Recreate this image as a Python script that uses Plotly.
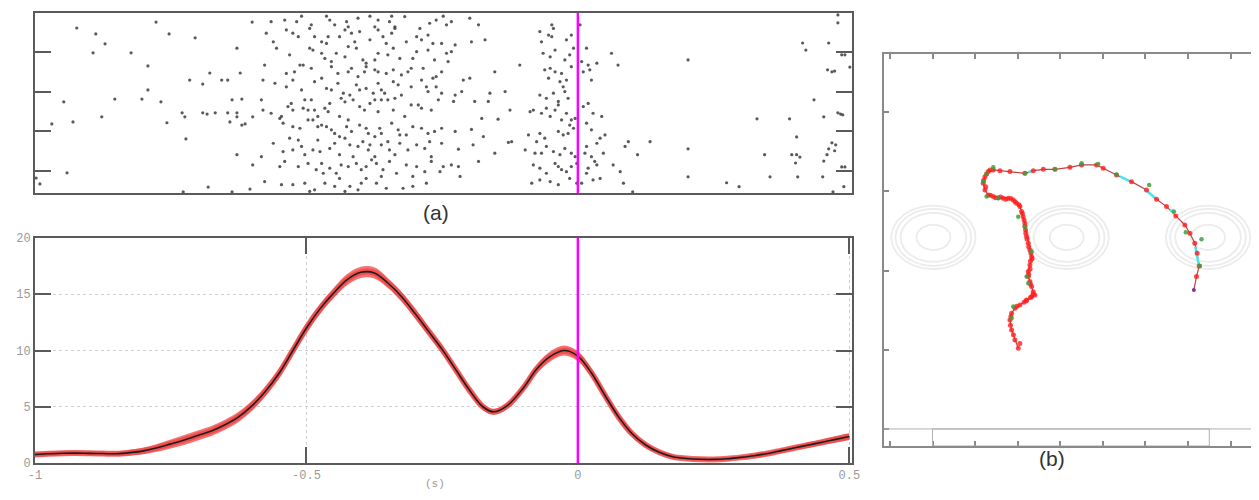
import numpy as np
import plotly.graph_objects as go

W, H = 1259, 500
OFF = 8  # page body margin of the browser, compensated in the layout

# ---------------- (a) raster : (spike time [ms], trial) ----------------
spikes_early = [(-923,3.8),(-888,5.3),(-871,7.8),(-893,10.1),(-823,10.1),(-777,2.3),(-753,5.3),(-705,6.3),
    (-792,13.4),(-792,19.5),(-853,21.8),(-803,21.8),(-768,22.5),(-947,22.5),(-930,27.6),(-969,28.1),(-877,26.3),
    (-941,40.5),(-991,43.3),(-998,41.8),(-757,27.8),(-729,25.3),(-722,31.9),(-715,17.0),(-691,18.0),(-678,15.2),
    (-656,17.0),(-645,17.0),(-622,15.2),(-628,8.9),(-600,2.3),(-724,26.3),(-691,25.3),(-683,25.6),(-668,25.3),
    (-645,25.3),(-637,22.0),(-619,21.8),(-628,25.3),(-628,26.3),(-641,27.6),(-619,28.4),(-613,28.1),(-599,26.3),
    (-628,35.9),(-599,38.5),(-681,44.1),(-727,45.3),(-637,45.3),(-604,44.6)]

spikes_burst = [(-565,2.2),(-540,1.8),(-518,2.2),(-509,0.8),(-491,3.0),(-463,0.8),(-457,1.8),(-448,3.0),(-426,2.2),
    (-423,3.5),(-405,1.3),(-383,0.8),(-374,3.5),(-368,1.8),(-347,2.2),(-343,0.8),(-337,3.5),(-319,0.9),(-291,3.9),
    (-273,2.6),(-261,1.8),(-248,0.8),(-242,3.0),
    (-574,5.1),(-561,7.3),(-537,4.3),(-525,5.1),(-515,6.0),(-494,3.9),(-485,6.0),(-472,7.3),(-460,6.0),(-463,7.7),
    (-439,6.0),(-429,4.3),(-417,5.1),(-411,7.3),(-402,4.7),(-383,6.8),(-368,4.3),(-359,6.0),(-353,7.7),(-343,5.1),
    (-337,3.9),(-316,7.3),(-297,6.0),(-288,6.8),(-276,5.6),(-267,7.7),(-251,7.7),
    (-555,8.9),(-531,10.6),(-494,8.9),(-488,9.4),(-472,10.2),(-466,11.5),(-454,12.3),(-445,10.2),(-429,11.1),
    (-423,8.5),(-408,8.9),(-396,11.9),(-390,12.7),(-374,11.9),(-368,10.2),(-350,10.6),(-340,8.9),(-328,11.5),
    (-304,11.5),(-297,9.8),(-276,9.4),(-264,11.9),(-242,10.2),(-239,12.3),
    (-577,13.2),(-537,15.3),(-522,14.9),(-512,13.2),(-506,13.2),(-491,14.0),(-472,16.5),(-454,13.6),(-442,15.3),
    (-423,14.9),(-417,14.0),(-405,16.1),(-393,14.9),(-390,13.6),(-374,14.4),(-368,14.9),(-353,15.3),(-340,14.4),
    (-325,15.7),(-313,14.9),(-307,14.0),(-285,14.0),(-288,17.0),(-261,16.1),(-251,14.9),(-580,17.0),(-558,17.8),
    (-525,17.0),
    (-537,18.7),(-509,19.5),(-503,22.0),(-491,22.0),(-485,17.4),(-463,19.1),(-454,19.5),(-442,17.8),(-436,21.6),
    (-432,20.3),(-420,20.8),(-408,18.2),(-402,19.5),(-390,19.1),(-377,20.3),(-368,17.8),(-362,19.5),(-356,20.3),
    (-340,17.4),(-331,18.2),(-325,20.8),(-307,18.7),(-294,23.3),(-279,18.7),(-276,19.9),(-267,16.5),(-261,18.7),
    (-251,20.3),
    (-583,22.0),(-580,24.6),(-565,25.4),(-546,26.2),(-534,23.7),(-528,22.9),(-525,24.6),(-506,24.1),(-497,24.6),
    (-485,24.6),(-479,26.2),(-466,24.1),(-460,25.0),(-457,22.9),(-439,26.2),(-429,22.5),(-423,27.1),(-414,22.0),
    (-402,23.7),(-393,24.6),(-383,22.9),(-374,22.0),(-368,25.0),(-362,22.0),(-350,22.0),(-340,24.6),(-337,21.6),
    (-319,26.2),(-307,23.3),(-288,24.1),(-270,24.6),(-257,22.0),
    (-549,26.7),(-543,27.9),(-525,28.8),(-512,29.2),(-497,27.1),(-488,27.1),(-479,28.8),(-472,28.4),(-463,28.8),
    (-454,29.6),(-448,30.5),(-439,31.3),(-426,28.8),(-417,30.0),(-402,28.4),(-390,29.2),(-386,30.5),(-374,31.3),
    (-365,29.2),(-362,30.5),(-343,27.9),(-331,29.6),(-328,30.9),(-316,30.9),(-304,28.8),(-288,29.2),(-276,30.5),
    (-264,30.0),(-251,29.2),
    (-583,36.4),(-561,33.0),(-543,35.1),(-531,31.7),(-525,34.7),(-515,32.2),(-509,33.8),(-503,35.9),(-488,34.7),
    (-479,32.2),(-475,35.1),(-457,34.3),(-448,33.0),(-439,35.9),(-429,31.7),(-420,33.4),(-414,36.4),(-405,33.8),
    (-396,32.6),(-386,34.7),(-383,33.4),(-374,36.4),(-362,33.4),(-350,32.6),(-347,34.7),(-337,35.9),(-328,33.0),
    (-313,34.7),(-297,33.4),(-282,34.3),(-273,32.6),(-270,36.4),(-251,33.0),
    (-577,42.7),(-549,38.9),(-540,37.6),(-515,38.9),(-497,38.1),(-482,39.7),(-472,38.1),(-469,40.6),(-457,39.3),
    (-445,40.6),(-436,38.5),(-423,38.9),(-408,38.1),(-399,39.7),(-390,38.9),(-380,37.2),(-371,38.1),(-359,39.7),
    (-347,37.6),(-334,40.6),(-316,38.5),(-304,41.4),(-297,38.9),(-282,40.2),(-270,37.6),(-254,40.2),(-248,38.9),
    (-546,43.5),(-525,43.5),(-503,43.1),(-494,45.2),(-485,44.8),(-466,43.1),(-448,43.9),(-439,41.9),(-429,45.2),
    (-420,43.9),(-405,44.8),(-399,43.1),(-390,41.9),(-371,43.1),(-362,41.4),(-353,44.4),(-322,44.4),(-304,43.9),
    (-279,43.1)]

spikes_event = [(-233,2.2),(-199,1.3),(-183,3.0),(-226,8.1),(-196,7.3),(-171,6.8),(-233,9.8),(-211,17.0),(-199,16.5),
    (-153,14.9),(-107,13.2),(-226,20.8),(-214,19.9),(-229,22.4),(-190,22.4),(-165,22.4),(-162,20.3),(-134,19.9),
    (-125,24.6),(-177,26.7),(-147,26.9),(-226,30.0),(-196,29.5),(-174,31.3),(-128,32.8),(-122,32.6),(-220,34.5),
    (-193,33.4),(-153,35.5),(-233,38.5),(-220,38.9),(-217,41.4),(-183,37.6),
    (-70,4.7),(-48,3.0),(-45,3.9),(-54,5.6),(-67,7.3),(-48,6.0),(-21,6.8),(-12,5.6),(-64,10.2),(-51,11.1),(-42,9.4),
    (-24,11.9),(-15,10.6),(-8,8.9),(-61,14.4),(-51,14.0),(-42,14.9),(-54,16.5),(-30,15.3),(-21,17.0),(-12,13.6),
    (-70,20.8),(-58,21.6),(-45,20.3),(-36,22.4),(-27,18.7),(-24,19.9),(-18,21.6),(-33,17.4),(-88,25.0),(-82,24.6),
    (-67,25.4),(-58,24.1),(-51,26.2),(-42,24.6),(-36,23.3),(-30,27.1),(-21,25.4),(-15,28.4),(-12,27.1),(-5,26.7),
    (-91,30.9),(-76,32.6),(-70,30.5),(-61,31.7),(-36,30.0),(-27,30.9),(-18,30.5),(-8,29.2),(-97,34.7),(-79,35.5),
    (-67,35.5),(-58,33.8),(-45,35.1),(-33,35.9),(-24,34.3),(-12,35.5),(-5,36.4),(-82,38.5),(-70,39.3),(-58,40.6),
    (-42,38.1),(-36,38.9),(-30,39.7),(-21,40.2),(-12,38.9),(-2,38.1),(-85,43.1),(-70,42.3),(-51,42.7),(-36,43.5),
    (-15,41.9),(-2,43.1),
    (4,3.0),(7,12.3),(16,8.9),(19,13.2),(10,14.9),(25,17.0),(35,12.7),(22,14.4),(74,13.2),(62,10.2),(10,23.7),
    (19,22.9),(28,25.4),(44,26.2),(16,27.9),(25,29.6),(41,31.7),(50,30.9),(35,33.0),(16,33.8),(13,35.5),(25,36.4),
    (47,35.5),(31,37.6),(35,38.5),(19,39.3),(16,40.6),(28,42.3),(41,41.9),(7,43.1),(65,38.5),(78,40.2),(87,33.8),
    (84,43.1),(93,32.6)]

spikes_late = [(110,35.9),(101,45.3),(133,32.6),(203,11.9),(203,34.4),(203,41.5),(274,43.0),(297,44.0),(330,26.8),
    (344,35.9),(354,41.5),(390,26.8),(394,35.9),(403,35.9),(409,36.5),(403,31.4),(401,38.0),(405,41.5),(414,7.6),
    (420,9.4),(435,22.0),(451,41.5),(453,26.3),(453,37.5),(459,35.9),(462,7.6),(460,14.4),(468,14.9),(473,14.7),
    (462,34.4),(468,32.9),(475,33.4),(473,34.9),(479,25.3),(484,25.6),(488,25.8),(479,0.5),(479,2.5),(486,10.6),
    (492,10.6),(486,39.0),(492,39.0),(490,44.0),(470,45.3),(501,13.7)]

event_time = 0.0
trial_ticks = [10, 20, 30, 40]

# ---------------- (a) firing rate ----------------
rate_t = [-1.0,-0.975,-0.95,-0.925,-0.9,-0.875,-0.85,-0.825,-0.8,-0.775,-0.75,-0.725,-0.7,-0.675,-0.65,-0.625,
          -0.6,-0.575,-0.55,-0.525,-0.5,-0.475,-0.45,-0.425,-0.4,-0.375,-0.35,-0.325,-0.3,-0.275,-0.25,-0.225,
          -0.2,-0.175,-0.155,-0.13,-0.1,-0.075,-0.05,-0.025,0.0,0.025,0.05,0.075,0.1,0.125,0.15,0.175,0.2,0.225,
          0.25,0.275,0.3,0.325,0.35,0.375,0.4,0.425,0.45,0.475,0.5]
rate = [0.75,0.82,0.87,0.88,0.86,0.84,0.82,0.92,1.08,1.35,1.7,2.05,2.45,2.85,3.4,4.1,
        5.1,6.4,8.0,10.0,12.0,13.7,15.1,16.3,16.95,16.9,16.0,14.8,13.3,11.7,10.1,8.3,
        6.5,5.0,4.55,5.1,6.7,8.4,9.5,10.0,9.5,8.0,6.0,4.1,2.6,1.6,0.95,0.55,0.4,0.33,
        0.32,0.38,0.5,0.65,0.85,1.1,1.35,1.6,1.85,2.1,2.35]
rate_err = [0.2,0.2,0.2,0.2,0.2,0.2,0.2,0.25,0.3,0.35,0.4,0.45,0.45,0.45,0.45,0.45,
            0.45,0.45,0.45,0.45,0.45,0.45,0.45,0.5,0.5,0.5,0.45,0.45,0.45,0.4,0.4,0.35,
            0.35,0.3,0.25,0.3,0.35,0.4,0.45,0.45,0.45,0.4,0.4,0.35,0.3,0.25,0.2,0.2,0.15,0.15,
            0.15,0.15,0.15,0.2,0.2,0.2,0.2,0.25,0.25,0.3,0.3]
rate_xticks = [-1, -0.5, 0, 0.5]
rate_xlabels = ["-1", "-0.5", "0", "0.5"]
rate_yticks = [0, 5, 10, 15, 20]

# ---------------- (b) trajectory ----------------
path = [(3.013,1.019),(2.935,1.124),(2.857,1.250),(2.817,1.377),(2.857,1.461),(2.935,1.524),(3.052,1.566),
    (3.209,1.629),(3.326,1.671),(3.404,1.692),(3.365,1.734),(3.326,1.798),(3.287,1.861),(3.248,1.924),(3.248,1.987),
    (3.287,2.071),(3.326,2.176),(3.287,2.260),(3.248,2.345),(3.209,2.429),(3.185,2.513),(3.169,2.597),(3.130,2.681),
    (3.091,2.745),(3.052,2.808),(2.974,2.850),(2.896,2.892),(2.778,2.913),(2.661,2.913),(2.544,2.921),(2.426,2.934),
    (2.309,2.955),(2.231,3.018),(2.191,3.102),(2.231,3.186),(2.309,3.250),(2.426,3.271),(2.583,3.262),(2.817,3.250),
    (3.169,3.228),(3.365,3.262),(3.600,3.279),(3.874,3.279),(4.226,3.304),(4.500,3.334),(4.852,3.334),(5.008,3.292),
    (5.321,3.207),(5.673,3.123),(6.026,3.018),(6.260,2.900),(6.495,2.808),(6.714,2.690),(6.925,2.576),(7.043,2.471),
    (7.160,2.345),(7.215,2.218),(7.262,2.058),(7.199,1.924),(7.137,1.755)]
red_samples_extra = [(3.05,1.08),(2.90,1.19),(2.83,1.31),(2.84,1.42),(2.98,1.55),(3.15,1.60),(3.36,1.70),(3.30,1.83),
    (3.26,1.95),(3.30,2.12),(3.31,2.22),(3.26,2.30),(3.22,2.40),(3.19,2.47),(3.17,2.56),(3.15,2.64),(3.11,2.72),
    (3.03,2.83),(2.94,2.87),(2.84,2.91),(2.72,2.90),(2.60,2.93),(2.48,2.92),(2.36,2.95),(2.25,3.06),(2.20,3.14),
    (2.27,3.22),(2.35,3.27),(3.29,2.02),(3.34,2.15),(3.20,1.62),(3.30,1.66)]
green_samples = [(2.426,3.304),(2.270,3.220),(3.169,3.228),(3.874,3.279),(4.500,3.355),(4.891,3.346),(5.321,3.212),
    (6.088,3.081),(6.667,2.745),(6.949,2.484),(7.317,2.395),(7.278,2.058),(2.191,3.123),(3.013,2.681),(3.169,2.555),
    (3.326,2.240),(3.209,1.924),(3.248,1.840),(2.896,1.545),(2.857,1.398),(2.544,2.913),(2.270,2.934)]
cyan_segments = [[(3.25,3.24),(3.33,3.26)],[(5.40,3.19),(5.63,3.13)],[(5.98,3.03),(6.22,2.92)],
                 [(6.57,2.77),(6.69,2.72)],[(7.17,2.30),(7.25,2.08)]]
ring_cx = [1.02, 4.15, 7.47]
ring_cy = 2.42
ring_rx = [0.99, 0.89, 0.77, 0.40]
ring_ry = [0.40, 0.36, 0.31, 0.16]
b_xticks = list(range(0, 9))
b_yticks = list(range(0, 5))
bar_x = [1.0, 7.5]

# ---------------- figure ----------------
fig = go.Figure()

all_spikes = spikes_early + spikes_burst + spikes_event + spikes_late
fig.add_trace(go.Scatter(x=[s[0] for s in all_spikes], y=[s[1] for s in all_spikes], mode="markers",
                         marker=dict(size=3.2, color="rgba(60,60,60,0.85)"), xaxis="x", yaxis="y",
                         hoverinfo="skip"))

r = np.array(rate); e = np.array(rate_err)
fig.add_trace(go.Scatter(x=rate_t, y=r - e, mode="lines", line=dict(width=0, shape="spline"),
                         xaxis="x2", yaxis="y2", hoverinfo="skip"))
fig.add_trace(go.Scatter(x=rate_t, y=r + e, mode="lines", line=dict(width=0, shape="spline"),
                         fill="tonexty", fillcolor="rgba(240,70,70,0.75)", xaxis="x2", yaxis="y2", hoverinfo="skip"))
fig.add_trace(go.Scatter(x=rate_t, y=rate, mode="lines", line=dict(width=6, color="rgba(240,70,70,0.8)", shape="spline"),
                         xaxis="x2", yaxis="y2", hoverinfo="skip"))
fig.add_trace(go.Scatter(x=rate_t, y=rate, mode="lines", line=dict(width=1.6, color="#1e1e1e", shape="spline"),
                         xaxis="x2", yaxis="y2"))

# rings
theta = np.linspace(0, 2 * np.pi, 120)
for cx in ring_cx:
    for rx, ry in zip(ring_rx, ring_ry):
        fig.add_trace(go.Scatter(x=cx + rx * np.cos(theta), y=ring_cy + ry * np.sin(theta), mode="lines",
                                 line=dict(color="#ececec", width=1.8), xaxis="x3", yaxis="y3", hoverinfo="skip"))

fig.add_trace(go.Scatter(x=[p[0] for p in path], y=[p[1] for p in path], mode="lines",
                         line=dict(color="#b8464a", width=1.2), xaxis="x3", yaxis="y3"))
for seg in cyan_segments:
    fig.add_trace(go.Scatter(x=[p[0] for p in seg], y=[p[1] for p in seg], mode="lines",
                             line=dict(color="#48e6f0", width=2.5), xaxis="x3", yaxis="y3"))
reds = path[:-1] + red_samples_extra
fig.add_trace(go.Scatter(x=[p[0] for p in reds], y=[p[1] for p in reds], mode="markers",
                         marker=dict(size=5, color="rgba(255,30,30,0.8)"), xaxis="x3", yaxis="y3"))
fig.add_trace(go.Scatter(x=[p[0] for p in green_samples], y=[p[1] for p in green_samples], mode="markers",
                         marker=dict(size=4.5, color="rgba(60,160,60,0.85)"), xaxis="x3", yaxis="y3"))
fig.add_trace(go.Scatter(x=[path[-1][0]], y=[path[-1][1]], mode="markers",
                         marker=dict(size=4, color="#7a3a8a"), xaxis="x3", yaxis="y3"))

# event markers
shapes = [
    dict(type="line", xref="x", yref="y domain", x0=event_time * 1000, x1=event_time * 1000, y0=0, y1=1,
         line=dict(color="#ff00ff", width=2.5)),
    dict(type="line", xref="x2", yref="y2 domain", x0=event_time, x1=event_time, y0=0, y1=1,
         line=dict(color="#ff00ff", width=2.5)),
    dict(type="line", xref="x3 domain", yref="y3", x0=0, x1=1, y0=0, y1=0, line=dict(color="#b0b0b0", width=1)),
    dict(type="rect", xref="x3", yref="y3", x0=bar_x[0], x1=bar_x[1], y0=-0.215, y1=0,
         line=dict(color="#b0b0b0", width=1)),
]

def dom_x(a, b):
    return [(a - OFF) / W, (b - OFF) / W]

def dom_y(top, bot):
    return [1 - (bot - OFF) / H, 1 - (top - OFF) / H]

def pos_x(p):
    return (p - OFF) / W

def pos_y(p):
    return 1 - (p - OFF) / H

mono = dict(family="Liberation Mono, DejaVu Sans Mono, monospace", size=12, color="#9a9a9a")
frame = dict(showline=True, linecolor="#5a5a5a", linewidth=2, zeroline=False, automargin=False)

fig.update_layout(
    template="none",
    width=W, height=H, margin=dict(l=0, r=0, t=0, b=0, pad=0, autoexpand=False),
    paper_bgcolor="white", plot_bgcolor="white", showlegend=False,
    shapes=shapes,
    xaxis=dict(domain=dom_x(35, 852), range=[-1000, 505], anchor="y", mirror=True, ticks="",
               showticklabels=False, showgrid=False, **frame),
    yaxis=dict(domain=dom_y(13, 193), range=[45.6, 0], anchor="x", mirror="ticks", tickvals=trial_ticks,
               ticks="inside", ticklen=16, tickwidth=2, tickcolor="#5a5a5a", showticklabels=False,
               showgrid=False, **frame),
    xaxis2=dict(domain=dom_x(35, 852), range=[-1, 0.505], anchor="y2", mirror="ticks", tickvals=rate_xticks,
                ticktext=rate_xlabels, ticks="inside", ticklen=16, tickwidth=2, tickcolor="#5a5a5a",
                showgrid=True, gridcolor="#cfcfcf", griddash="dot", gridwidth=1, tickfont=mono, **frame),
    yaxis2=dict(domain=dom_y(238, 463), range=[0, 20], anchor="x2", mirror="ticks", tickvals=rate_yticks,
                ticks="inside", ticklen=16, tickwidth=2, tickcolor="#5a5a5a",
                showgrid=True, gridcolor="#cfcfcf", griddash="dot", gridwidth=1, tickfont=mono, **frame),
    xaxis3=dict(domain=dom_x(884, 1257), range=[-0.14, 8.62], anchor="y3", mirror="ticks", tickvals=b_xticks,
                ticks="inside", ticklen=5, tickwidth=1.5, tickcolor="#8a8a8a", showticklabels=False,
                showgrid=False, zeroline=False, showline=True, linecolor="#8a8a8a", linewidth=2, automargin=False),
    yaxis3=dict(domain=dom_y(54, 446), range=[-0.215, 4.735], anchor="x3", mirror="ticks", tickvals=b_yticks,
                ticks="inside", ticklen=5, tickwidth=1.5, tickcolor="#8a8a8a", showticklabels=False,
                showgrid=False, zeroline=False, showline=True, linecolor="#8a8a8a", linewidth=2, automargin=False),
    annotations=[
        dict(text="(a)", x=pos_x(436), y=pos_y(213), xref="paper", yref="paper", showarrow=False,
             font=dict(family="Liberation Sans, Arial", size=21, color="#333")),
        dict(text="(b)", x=pos_x(1067), y=pos_y(472), xref="paper", yref="paper", showarrow=False,
             font=dict(family="Liberation Sans, Arial", size=21, color="#333")),
        dict(text="(s)", x=pos_x(435), y=pos_y(492), xref="paper", yref="paper", showarrow=False,
             font=dict(family="Liberation Mono, DejaVu Sans Mono, monospace", size=11, color="#9a9a9a")),
    ],
)

fig.write_html("out.html")
